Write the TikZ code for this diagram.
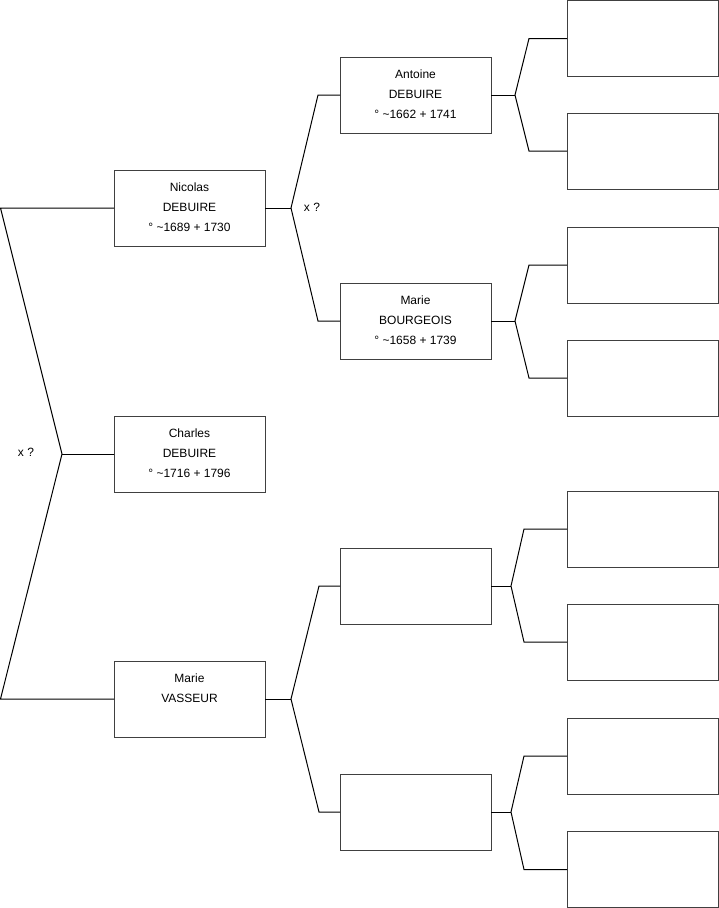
\documentclass[tikz,border=0pt]{standalone}
\usepackage{fontspec}
\setmainfont{Liberation Sans}
\begin{document}
\begin{tikzpicture}[x=1pt,y=-1pt,
  box/.style={draw=black!75,line width=1pt,minimum width=151pt,minimum height=76pt,inner sep=0pt,outer sep=0pt},
  lbl/.style={anchor=north,align=center,inner sep=0pt,font=\fontsize{12}{20}\selectfont},
  xq/.style={inner sep=0pt,font=\fontsize{12}{14}\selectfont},
  conn/.style={draw=black,line width=1pt,line join=miter}]
\useasboundingbox (0,0) rectangle (719,908);
% generation 1
\node[box] (nicolas) at (189.5,208) {};
\node[box] (charles) at (189.5,454) {};
\node[box] (vasseur) at (189.5,699) {};
% generation 2
\node[box] (antoine) at (415.5,95) {};
\node[box] (bourgeois) at (415.5,321) {};
\node[box] (g2c) at (415.5,586) {};
\node[box] (g2d) at (415.5,812) {};
% generation 3
\node[box] (g3a) at (642.5,38.5) {};
\node[box] (g3b) at (642.5,151) {};
\node[box] (g3c) at (642.5,265) {};
\node[box] (g3d) at (642.5,378) {};
\node[box] (g3e) at (642.5,529) {};
\node[box] (g3f) at (642.5,642) {};
\node[box] (g3g) at (642.5,756) {};
\node[box] (g3h) at (642.5,869.5) {};
% labels
\node[lbl] (nicolas-t) at ([yshift=-13pt]nicolas.north) {Nicolas\\DEBUIRE\\° \textasciitilde1689 + 1730};
\node[lbl] (charles-t) at ([yshift=-13pt]charles.north) {Charles\\DEBUIRE\\° \textasciitilde1716 + 1796};
\node[lbl] (vasseur-t) at ([yshift=-13pt]vasseur.north) {Marie\\VASSEUR};
\node[lbl] (antoine-t) at ([yshift=-13pt]antoine.north) {Antoine\\DEBUIRE\\° \textasciitilde1662 + 1741};
\node[lbl] (bourgeois-t) at ([yshift=-13pt]bourgeois.north) {Marie\\BOURGEOIS\\° \textasciitilde1658 + 1739};
\node[xq] (x0) at (26,452) {x ?};
\node[xq] (x1) at (312,207) {x ?};
% connector points
\coordinate (c1) at (0.5,208);
\coordinate (c2) at (0.5,699);
\coordinate (j0) at (62,454);
\coordinate (j1) at (291,208);
\coordinate (e1a) at (318,95);
\coordinate (e1b) at (318,321);
\coordinate (j2) at (291,699);
\coordinate (e2a) at (319,586);
\coordinate (e2b) at (319,812);
\coordinate (j3) at (515,95);
\coordinate (e3a) at (529,38.5);
\coordinate (e3b) at (529,151);
\coordinate (j4) at (515,321);
\coordinate (e4a) at (529,265);
\coordinate (e4b) at (529,378);
\coordinate (j5) at (511,586);
\coordinate (e5a) at (524,529);
\coordinate (e5b) at (524,642);
\coordinate (j6) at (511,812);
\coordinate (e6a) at (524,756);
\coordinate (e6b) at (524,869.5);
% connectors
\draw[conn] (nicolas.west) -- (c1) -- (j0) -- (c2) -- (vasseur.west);
\draw[conn] (charles.west) -- (j0);
\draw[conn] (nicolas.east) -- (j1);
\draw[conn] (antoine.west) -- (e1a) -- (j1) -- (e1b) -- (bourgeois.west);
\draw[conn] (vasseur.east) -- (j2);
\draw[conn] (g2c.west) -- (e2a) -- (j2) -- (e2b) -- (g2d.west);
\draw[conn] (antoine.east) -- (j3);
\draw[conn] (g3a.west) -- (e3a) -- (j3) -- (e3b) -- (g3b.west);
\draw[conn] (bourgeois.east) -- (j4);
\draw[conn] (g3c.west) -- (e4a) -- (j4) -- (e4b) -- (g3d.west);
\draw[conn] (g2c.east) -- (j5);
\draw[conn] (g3e.west) -- (e5a) -- (j5) -- (e5b) -- (g3f.west);
\draw[conn] (g2d.east) -- (j6);
\draw[conn] (g3g.west) -- (e6a) -- (j6) -- (e6b) -- (g3h.west);
\end{tikzpicture}
\end{document}
